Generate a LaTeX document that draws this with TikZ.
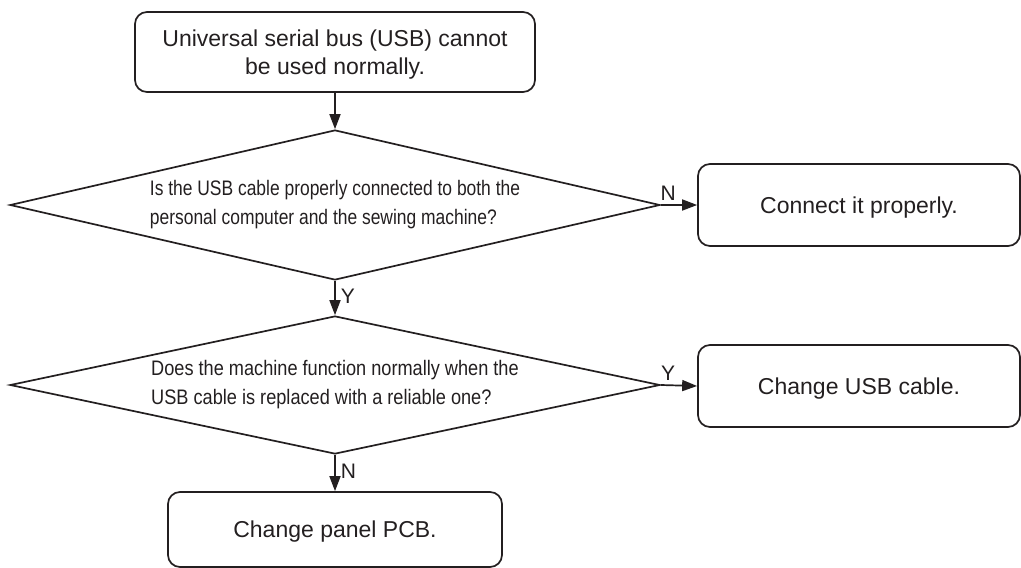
\documentclass[tikz,border=0pt]{standalone}
\usepackage{fontspec}
\setmainfont{Liberation Sans}
\newfontfamily\narrowsans[FakeStretch=0.83]{Liberation Sans}
\newfontfamily\narrowsansb[FakeStretch=0.865]{Liberation Sans}
\usetikzlibrary{arrows.meta,shapes.geometric}
\definecolor{tinta}{HTML}{231F20}

\begin{document}
\begin{tikzpicture}[x=1pt,y=-1pt,>={Triangle[length=15pt,width=11pt]},
  line width=1.7pt,
  caja/.style={draw=tinta,rounded corners=12pt,align=center,text=tinta,
    inner sep=0pt,text depth=0pt,font={\fontsize{23}{28}\selectfont}},
  pregunta/.style={draw=tinta,diamond,aspect=4.33,inner sep=0pt,
    minimum width=650pt,align=left,text=tinta,
    font={\narrowsans\fontsize{21}{29}\selectfont}},
  etiqueta/.style={text=tinta,font={\fontsize{21}{24}\selectfont},inner sep=4pt}]
  \useasboundingbox (0,0) rectangle (1021,568);
  % cajas y preguntas
  \node[caja,minimum width=400pt,minimum height=80pt] (inicio) at (335,52)
    {Universal serial bus (USB) cannot\\be used normally.};
  \node[pregunta,minimum height=150pt] (cable) at (335,205)
    {Is the USB cable properly connected to both the\\
     personal computer and the sewing machine?};
  \node[caja,minimum width=322pt,minimum height=82pt] (conectar) at (859,205)
    {Connect it properly.};
  \node[pregunta,minimum height=138pt,font={\narrowsansb\fontsize{21}{29}\selectfont}]
    (prueba) at (335,385)
    {Does the machine function normally when the\\
     USB cable is replaced with a reliable one?};
  \node[caja,minimum width=322pt,minimum height=82pt] (cambiarcable) at (859,386)
    {Change USB cable.};
  \node[caja,minimum width=334pt,minimum height=75pt] (cambiarpcb) at (335,529.5)
    {Change panel PCB.};
  % flechas
  \draw[->,tinta] (inicio.south) -- (cable.north);
  \draw[->,tinta] (cable.east) -- node[etiqueta,pos=0.2,above]{N} (conectar.west);
  \draw[->,tinta] (cable.south) -- node[etiqueta,pos=0.45,right,inner sep=5pt]{Y} (prueba.north);
  \draw[->,tinta] (prueba.east) -- node[etiqueta,pos=0.2,above]{Y} (cambiarcable.west);
  \draw[->,tinta] (prueba.south) -- node[etiqueta,pos=0.45,right,inner sep=5pt]{N} (cambiarpcb.north);
\end{tikzpicture}
\end{document}
